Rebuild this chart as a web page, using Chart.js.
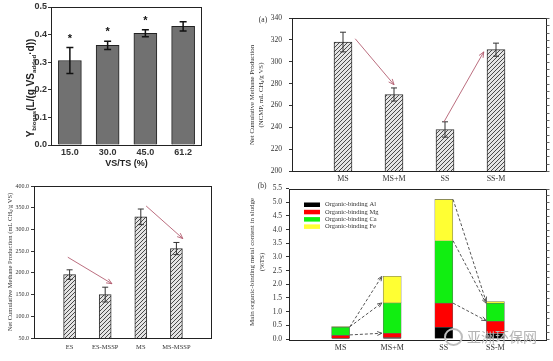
<!DOCTYPE html>
<html>
<head>
<meta charset="utf-8">
<script src="https://cdn.jsdelivr.net/npm/chart.js@4/dist/chart.umd.min.js"></script>
<style>
  body { margin: 0; background: #fff; width: 553px; height: 361px; position: relative; overflow: hidden; }
  canvas { position: absolute; }
  #wm { position: absolute; left: 467px; top: 326px; font: 14px "Noto Sans CJK SC"; color: #b4b4b4; letter-spacing: 0px; }
  #wmIcon { position: absolute; left: 444px; top: 328px; width: 15px; height: 14px; border: 2px solid #bdbdbd; border-radius: 50%; }
</style>
</head>
<body>
<canvas id="c1" width="230" height="175" style="left:0;top:0"></canvas>
<canvas id="c2" width="323" height="185" style="left:230px;top:0"></canvas>
<canvas id="c3" width="230" height="186" style="left:0;top:175px"></canvas>
<canvas id="c4" width="323" height="181" style="left:230px;top:180px"></canvas>
<div id="wmIcon"></div>
<div id="wm">亚洲环保网</div>
<script>
// 데이터 — 패널 1 (VS/TS 별 바이오가스 수율)
const vsLabels = ['15.0', '30.0', '45.0', '61.2'];
const vsYield = [0.306, 0.361, 0.405, 0.430];
const vsErr = [0.047, 0.015, 0.013, 0.017];
const vsStar = [true, true, true, false];

// 패널 2 (a) NCMP
const ncmpLabels = ['', 'MS', 'MS+M', 'SS', 'SS-M', ''];
const ncmpValues = [null, 318, 270, 238, 311, null];
const ncmpErr = [null, 9, 6, 7, 6, null];
const ncmpArrows = [[1.24, 321, 2.0, 279], [2.98, 245, 3.76, 309]];

// 패널 3 (ES / MS, MSSP)
const msspLabels = ['', 'ES', 'ES-MSSP', 'MS', 'MS-MSSP', ''];
const msspValues = [null, 196, 150, 329, 256, null];
const msspErr = [null, 11, 17, 18, 14, null];
const msspArrows = [[0.95, 236, 2.19, 175], [3.15, 354, 4.18, 279]];

// 패널 4 (b) 유기결합 금속
const metalLabels = ['', 'MS', 'MS+M', 'SS', 'SS-M', ''];
const metalAl = [null, 0.03, 0.05, 0.43, 0.20, null];
const metalMg = [null, 0.10, 0.16, 0.88, 0.45, null];
const metalCa = [null, 0.30, 1.11, 2.28, 0.66, null];
const metalFe = [null, 0.02, 0.97, 1.51, 0.06, null];
const metalArrows = [
  [1.18, 0.45, 1.8, 2.29], [1.18, 0.45, 1.8, 1.32], [1.18, 0.15, 1.8, 0.21],
  [3.18, 5.1, 3.82, 1.37], [3.18, 3.59, 3.82, 1.31], [3.18, 1.31, 3.82, 0.67],
];

const SERIF = '"Liberation Serif", "Times New Roman", serif';
const SANS = '"Liberation Sans", Arial, sans-serif';

// 빗금 패턴
const hatch = (() => {
  const c = document.createElement('canvas');
  c.width = 4; c.height = 4;
  const g = c.getContext('2d');
  g.fillStyle = '#e4e4e4';
  g.fillRect(0, 0, 4, 4);
  g.strokeStyle = '#4a4a4a';
  g.lineWidth = 1;
  g.beginPath();
  g.moveTo(0, 4); g.lineTo(4, 0);
  g.moveTo(-1, 1); g.lineTo(1, -1);
  g.moveTo(3, 5); g.lineTo(5, 3);
  g.stroke();
  return g.createPattern(c, 'repeat');
})();

// 테두리 박스 (+ 오른쪽 보조 눈금)
function frame(minorStep) {
  return {
    id: 'frame',
    afterDatasetsDraw(chart) {
      const a = chart.chartArea, c = chart.ctx, y = chart.scales.y;
      c.save();
      c.strokeStyle = '#222';
      c.lineWidth = 1;
      c.strokeRect(Math.round(a.left) + 0.5, Math.round(a.top) + 0.5,
        Math.round(a.right - a.left) - 1, Math.round(a.bottom - a.top));
      if (minorStep) {
        c.strokeStyle = '#666';
        c.beginPath();
        for (let v = y.min; v <= y.max + 1e-9; v += minorStep) {
          const py = Math.round(y.getPixelForValue(v)) + 0.5;
          c.moveTo(a.right - 0.5, py);
          c.lineTo(a.right + 2.5, py);
        }
        c.stroke();
      }
      c.restore();
    },
  };
}

// 오차 막대
function errorBars(errors, color, width, cap, stars) {
  return {
    id: 'errorBars',
    afterDatasetsDraw(chart) {
      const meta = chart.getDatasetMeta(0);
      const data = chart.data.datasets[0].data;
      const y = chart.scales.y, c = chart.ctx;
      c.save();
      c.strokeStyle = color;
      c.fillStyle = color;
      c.lineWidth = width;
      data.forEach((v, i) => {
        if (v == null || errors[i] == null) return;
        const x = meta.data[i].x;
        const top = y.getPixelForValue(v + errors[i]);
        const bot = y.getPixelForValue(v - errors[i]);
        c.beginPath();
        c.moveTo(x, top); c.lineTo(x, bot);
        c.moveTo(x - cap, top); c.lineTo(x + cap, top);
        c.moveTo(x - cap, bot); c.lineTo(x + cap, bot);
        c.stroke();
        if (stars && stars[i]) {
          c.font = 'bold 11px ' + SANS;
          c.textAlign = 'center';
          c.textBaseline = 'middle';
          c.fillText('*', x, top - 9);
        }
      });
      c.restore();
    },
  };
}

// 화살표
function arrows(list, color, dash, head) {
  return {
    id: 'arrows',
    afterDatasetsDraw(chart) {
      const xs = chart.scales.x, ys = chart.scales.y, c = chart.ctx;
      c.save();
      c.strokeStyle = color;
      c.lineWidth = 1;
      list.forEach(([x1, y1, x2, y2]) => {
        const px1 = xs.getPixelForValue(x1), py1 = ys.getPixelForValue(y1);
        const px2 = xs.getPixelForValue(x2), py2 = ys.getPixelForValue(y2);
        const ang = Math.atan2(py2 - py1, px2 - px1);
        c.setLineDash(dash);
        c.beginPath();
        c.moveTo(px1, py1); c.lineTo(px2, py2);
        c.stroke();
        c.setLineDash([]);
        c.beginPath();
        c.moveTo(px2 - head * Math.cos(ang - 0.4), py2 - head * Math.sin(ang - 0.4));
        c.lineTo(px2, py2);
        c.lineTo(px2 - head * Math.cos(ang + 0.4), py2 - head * Math.sin(ang + 0.4));
        c.stroke();
      });
      c.restore();
    },
  };
}

// 아래첨자 포함 텍스트
function richText(c, segs, x, y, rot, size, family, weight) {
  c.save();
  c.translate(x, y);
  c.rotate(rot);
  c.textBaseline = 'middle';
  c.textAlign = 'left';
  const fontOf = s => `${weight} ${s[1] ? size * 0.62 : size}px ${family}`;
  let w = 0;
  segs.forEach(s => { c.font = fontOf(s); w += c.measureText(s[0]).width; });
  let cx = -w / 2;
  segs.forEach(s => {
    c.font = fontOf(s);
    c.fillText(s[0], cx, s[1] ? size * 0.32 : 0);
    cx += c.measureText(s[0]).width;
  });
  c.restore();
}

function annot(fn) {
  return { id: 'annot', afterDraw(chart) { fn(chart, chart.ctx); } };
}

function yAxis(min, max, step, width, font, dec, pad) {
  return {
    min, max,
    border: { display: false },
    grid: { drawOnChartArea: false, tickLength: 3, color: '#333' },
    ticks: { stepSize: step, font, color: '#333', padding: pad, callback: v => v.toFixed(dec) },
    afterFit(s) { s.width = width; },
  };
}

function xAxis(height, font, pad) {
  return {
    grid: { display: false, drawTicks: false },
    border: { display: false },
    ticks: { font, color: '#333', padding: pad, autoSkip: false, maxRotation: 0 },
    afterFit(s) { s.height = height; },
  };
}

const base = {
  responsive: false,
  animation: false,
  plugins: { legend: { display: false }, tooltip: { enabled: false } },
};

// 패널 1
new Chart(document.getElementById('c1'), {
  type: 'bar',
  data: {
    labels: vsLabels,
    datasets: [{ data: vsYield, backgroundColor: '#717171', borderColor: '#222', borderWidth: 1, barThickness: 23 }],
  },
  options: {
    ...base,
    layout: { padding: { top: 7, right: 28, bottom: 0, left: 0 } },
    scales: {
      x: {
        ...xAxis(30, { family: SANS, size: 9, weight: 'bold' }, 2),
        title: { display: true, text: 'VS/TS (%)', font: { family: SANS, size: 9, weight: 'bold' }, color: '#222', padding: { top: 2, bottom: 6 } },
      },
      y: yAxis(0, 0.5, 0.1, 51, { family: SANS, size: 9, weight: 'bold' }, 1, 1),
    },
  },
  plugins: [
    frame(0),
    errorBars(vsErr, '#111', 1.5, 3.5, vsStar),
    annot((chart, c) => {
      c.fillStyle = '#222';
      richText(c, [['Y'], ['biogas', 1], ['(L/(g VS'], ['added', 1], ['·d))']], 31, 88, -Math.PI / 2, 10, SANS, 'bold');
    }),
  ],
});

// 패널 2 (a)
new Chart(document.getElementById('c2'), {
  type: 'bar',
  data: {
    labels: ncmpLabels,
    datasets: [{ data: ncmpValues, backgroundColor: hatch, borderColor: '#333', borderWidth: 1, barThickness: 18 }],
  },
  options: {
    ...base,
    layout: { padding: { top: 18, right: 6, bottom: 0, left: 0 } },
    scales: {
      x: { ...xAxis(14, { family: SERIF, size: 8 }, 3), offset: false },
      y: yAxis(200, 340, 20, 62, { family: SERIF, size: 7.5 }, 0, 7),
    },
  },
  plugins: [
    frame(20 / 3),
    errorBars(ncmpErr, '#333', 1, 3, null),
    arrows(ncmpArrows, 'rgba(175, 85, 105, 0.85)', [], 6),
    annot((chart, c) => {
      c.fillStyle = '#333';
      c.font = '7.5px ' + SERIF;
      c.textAlign = 'center';
      c.textBaseline = 'middle';
      c.fillText('(a)', 33, 20);
      richText(c, [['Net Cumulative Methane Production']], 22, 95, -Math.PI / 2, 6.8, SERIF, 'normal');
      richText(c, [['(NCMP, mL CH'], ['4', 1], ['/g VS)']], 31, 95, -Math.PI / 2, 6.8, SERIF, 'normal');
    }),
  ],
});

// 패널 3
new Chart(document.getElementById('c3'), {
  type: 'bar',
  data: {
    labels: msspLabels,
    datasets: [{ data: msspValues, backgroundColor: hatch, borderColor: '#333', borderWidth: 1, barThickness: 12 }],
  },
  options: {
    ...base,
    layout: { padding: { top: 11, right: 18, bottom: 0, left: 0 } },
    scales: {
      x: { ...xAxis(23, { family: SERIF, size: 6.5 }, 5), offset: false },
      y: yAxis(50, 400, 50, 34, { family: SERIF, size: 6 }, 1, 2),
    },
  },
  plugins: [
    frame(0),
    errorBars(msspErr, '#333', 1, 3, null),
    arrows(msspArrows, 'rgba(175, 85, 105, 0.85)', [], 6),
    annot((chart, c) => {
      c.fillStyle = '#333';
      richText(c, [['Net Cumulative Methane Production (mL CH'], ['4', 1], ['/g VS)']], 10, 87, -Math.PI / 2, 6.5, SERIF, 'normal');
    }),
  ],
});

// 패널 4 (b) 누적 막대
const metalSeries = [
  { label: 'Organic-binding Al', data: metalAl, color: '#000000' },
  { label: 'Organic-binding Mg', data: metalMg, color: '#ff0000' },
  { label: 'Organic-binding Ca', data: metalCa, color: '#11ee11' },
  { label: 'Organic-binding Fe', data: metalFe, color: '#ffff33' },
];

new Chart(document.getElementById('c4'), {
  type: 'bar',
  data: {
    labels: metalLabels,
    datasets: metalSeries.map(s => ({
      label: s.label, data: s.data, backgroundColor: s.color,
      borderColor: '#666', borderWidth: 0.6, barThickness: 18,
    })),
  },
  options: {
    ...base,
    layout: { padding: { top: 5, right: 6, bottom: 0, left: 0 } },
    scales: {
      x: { ...xAxis(22, { family: SERIF, size: 8 }, 4), offset: false, stacked: true },
      y: { ...yAxis(0, 5.5, 0.5, 59, { family: SERIF, size: 7.5 }, 1, 4), stacked: true },
    },
  },
  plugins: [
    frame(0.25),
    arrows(metalArrows, '#555', [3, 2], 5),
    annot((chart, c) => {
      const a = chart.chartArea;
      c.fillStyle = '#333';
      c.font = '7.5px ' + SERIF;
      c.textAlign = 'center';
      c.textBaseline = 'middle';
      c.fillText('(b)', 32, 6);
      richText(c, [['Main organic-binding metal content in sludge']], 22, 82, -Math.PI / 2, 7, SERIF, 'normal');
      richText(c, [['(%TS)']], 32, 82, -Math.PI / 2, 7, SERIF, 'normal');
      // 범례
      chart.data.datasets.forEach((ds, i) => {
        const y = a.top + 16 + i * 7.3;
        c.fillStyle = ds.backgroundColor;
        c.fillRect(a.left + 15, y - 2, 16, 4.5);
        c.fillStyle = '#333';
        c.font = '6.5px ' + SERIF;
        c.textAlign = 'left';
        c.fillText(ds.label, a.left + 36, y);
      });
    }),
  ],
});
</script>
</body>
</html>
